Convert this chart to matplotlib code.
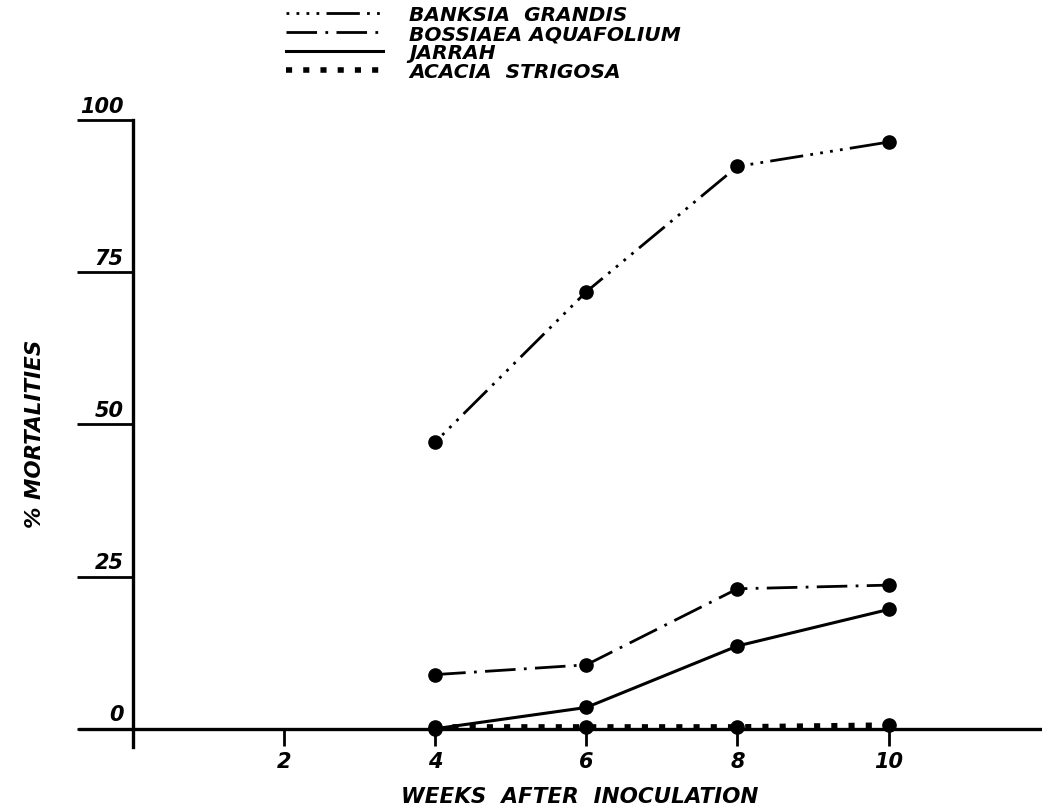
import matplotlib
matplotlib.use('Agg')
import matplotlib.pyplot as plt

# dados
semanas = [4, 6, 8, 10]
banksia = [47.1, 71.8, 92.4, 96.4]
bossiaea = [8.9, 10.5, 23.0, 23.6]
jarrah = [0.0, 3.5, 13.6, 19.6]
acacia = [0.3, 0.3, 0.3, 0.6]
nomes = ['BANKSIA  GRANDIS', 'BOSSIAEA AQUAFOLIUM', 'JARRAH', 'ACACIA  STRIGOSA']
yticks = [0, 25, 50, 75, 100]
xticks = [2, 4, 6, 8, 10]

plt.rcParams['font.family'] = ['DejaVu Sans']
fonte = dict(fontweight='bold', fontstyle='italic')

fig = plt.figure(figsize=(10.42, 8.12), dpi=100)
ax = fig.add_axes([0.0768, 0.0788, 0.921, 0.772])

estilos = [
    (0, (1, 2.6, 1, 2.6, 1, 2.6, 1, 2.6, 12, 2.6)),
    (0, (11, 3, 1, 3)),
    '-',
    (0, (1.1, 2.0)),
]
larguras = [2.0, 2.0, 2.2, 4.0]
series = [banksia, bossiaea, jarrah, acacia]

for serie, nome, ls, lw in zip(series, nomes, estilos, larguras):
    ax.plot(semanas, serie, color='black', linestyle=ls, linewidth=lw,
            label=nome, clip_on=False, zorder=3)
    ax.plot(semanas, serie, 'o', color='black', markersize=9.5,
            clip_on=False, zorder=4)

ax.set_xlim(-0.7, 12.0)
ax.set_ylim(-3, 100)

# eixos cruzando no zero
for s in ['top', 'right']:
    ax.spines[s].set_visible(False)
ax.spines['left'].set_position(('data', 0))
ax.spines['bottom'].set_position(('data', 0))
ax.spines['left'].set_bounds(-3, 100)
ax.spines['left'].set_linewidth(2.4)
ax.spines['bottom'].set_linewidth(2.4)

ax.set_yticks(yticks)
ax.tick_params(axis='y', direction='out', length=40, width=2, labelleft=False)
for v in yticks:
    ax.text(-0.12, v + 0.7, str(v), ha='right', va='bottom', fontsize=15, **fonte)

ax.set_xticks(xticks)
ax.set_xticklabels([str(v) for v in xticks], fontsize=15, **fonte)
ax.tick_params(axis='x', direction='out', length=12, width=2, pad=4)

fig.text(0.556, 0.019, 'WEEKS  AFTER  INOCULATION', ha='center', va='center',
         fontsize=15.5, **fonte)
fig.text(0.034, 0.466, '% MORTALITIES', ha='center', va='center', rotation=90,
         fontsize=15.5, **fonte)

leg = ax.legend(loc='upper left', bbox_to_anchor=(0.272, 0.996), bbox_transform=fig.transFigure,
                frameon=False, handlelength=4.8, handletextpad=1.3, labelspacing=0.0,
                borderaxespad=0, borderpad=0.15, prop=dict(size=14.5, weight='bold', style='italic'))

fig.savefig('out.png', dpi=100)
